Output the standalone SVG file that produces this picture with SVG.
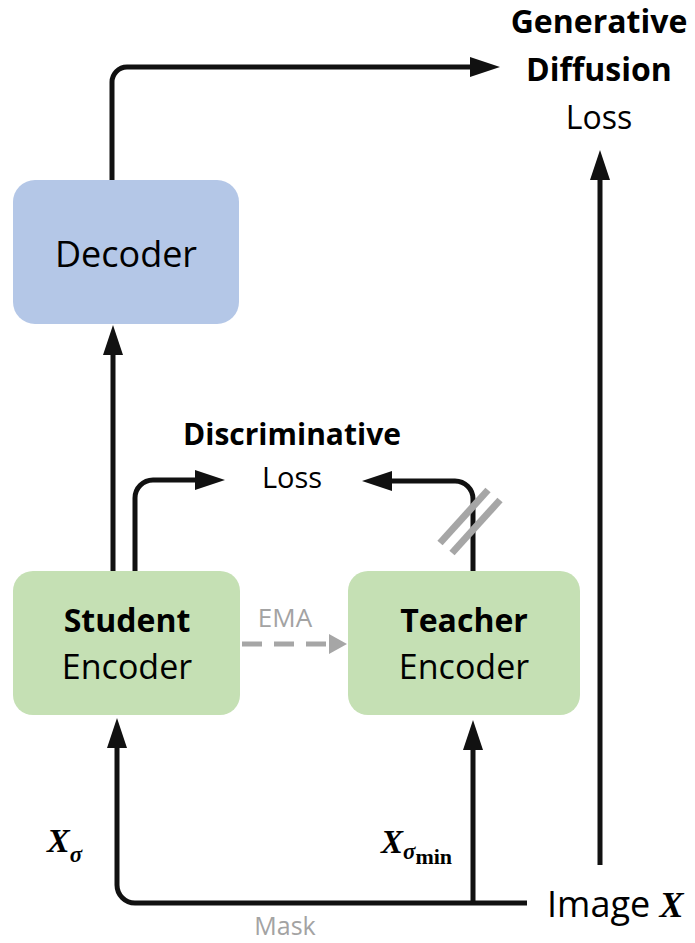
<svg xmlns="http://www.w3.org/2000/svg" width="695" height="943" viewBox="0 0 695 943">
<style>
  .sans { font-family: "Open Sans", "Liberation Sans", sans-serif; fill: #000; }
  .b { font-weight: bold; }
  .c { text-anchor: middle; }
  .math { font-family: "Liberation Serif", "DejaVu Serif", serif; font-weight: bold; font-style: italic; fill: #000; }
  .grey { fill: #a3a3a3; }
  .edge { fill: none; stroke: #111; stroke-width: 5; }
  .ema { fill: none; stroke: #a6a6a6; stroke-width: 5; stroke-dasharray: 20 12; }
  .slash { stroke: #a6a6a6; stroke-width: 7; }
</style>
<defs>
  <marker id="ah" markerUnits="userSpaceOnUse" markerWidth="30" markerHeight="20" refX="1" refY="10" orient="auto">
    <path d="M0,0 L30,10 L0,20 Z" fill="#111"/>
  </marker>
  <marker id="ahg" markerUnits="userSpaceOnUse" markerWidth="18" markerHeight="20" refX="1" refY="10" orient="auto">
    <path d="M0,0 L18,10 L0,20 Z" fill="#a6a6a6"/>
  </marker>
</defs>

<g id="connectors">
  <path class="edge" d="M112,180 V82 A15,15 0 0 1 127,67 H471" marker-end="url(#ah)"/>
  <path class="edge" d="M113,571 V354" marker-end="url(#ah)"/>
  <path class="edge" d="M135,571 V498 A18,18 0 0 1 153,480 H196" marker-end="url(#ah)"/>
  <path class="edge" d="M473,571 V499 A18,18 0 0 0 455,481 H391" marker-end="url(#ah)"/>
  <path class="edge" d="M527,903 H135 A18,18 0 0 1 117,885 V747" marker-end="url(#ah)"/>
  <path class="edge" d="M473,903 V749" marker-end="url(#ah)"/>
  <path class="edge" d="M600,865 V179" marker-end="url(#ah)"/>
  <path class="ema" d="M242,644 H330" marker-end="url(#ahg)"/>
  <line class="slash" x1="440" y1="543" x2="488" y2="490"/>
  <line class="slash" x1="452" y1="553" x2="500" y2="500"/>
</g>

<g id="decoder">
  <rect x="13" y="180" width="226" height="144" rx="22" fill="#b4c7e7"/>
  <text class="sans c" x="126" y="267" font-size="36">Decoder</text>
</g>

<g id="student-encoder">
  <rect x="13" y="571" width="227" height="144" rx="20" fill="#c5e0b4"/>
  <text class="sans b c" x="127" y="632" font-size="32">Student</text>
  <text class="sans c" x="127" y="679" font-size="34">Encoder</text>
</g>

<g id="teacher-encoder">
  <rect x="348" y="571" width="232" height="144" rx="20" fill="#c5e0b4"/>
  <text class="sans b c" x="464" y="632" font-size="32">Teacher</text>
  <text class="sans c" x="464" y="679" font-size="34">Encoder</text>
</g>

<g id="generative-loss">
  <text class="sans b c" x="599" y="33" font-size="32">Generative</text>
  <text class="sans b c" x="599" y="81" font-size="32">Diffusion</text>
  <text class="sans c" x="599" y="129" font-size="32">Loss</text>
</g>

<g id="discriminative-loss">
  <text class="sans b c" x="292" y="445" font-size="30">Discriminative</text>
  <text class="sans c" x="292" y="488" font-size="29">Loss</text>
</g>

<g id="image-x">
  <text class="sans" x="547" y="917" font-size="36">Image <tspan class="math">X</tspan></text>
</g>

<g id="labels">
  <text class="sans grey c" x="285" y="627" font-size="26">EMA</text>
  <text class="sans grey c" x="285" y="935" font-size="25">Mask</text>
  <text class="math" x="47" y="852" font-size="34">X<tspan font-size="23" dy="10">σ</tspan></text>
  <text class="math" x="381" y="853" font-size="33">X<tspan font-size="23" dy="6">σ</tspan><tspan font-size="22" font-style="normal" dy="5">min</tspan></text>
</g>
</svg>
